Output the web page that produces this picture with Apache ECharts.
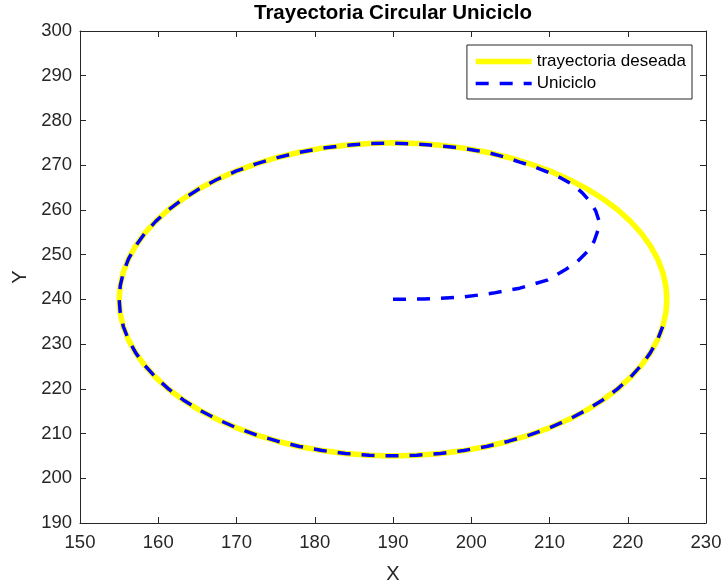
<!DOCTYPE html>
<html>
<head>
<meta charset="utf-8">
<script src="https://cdn.jsdelivr.net/npm/echarts@6/dist/echarts.min.js"></script>
<style>html,body{margin:0;padding:0;background:#fff}#c{width:724px;height:586px}</style>
</head>
<body>
<div id="c"></div>
<script>
var title = 'Trayectoria Circular Uniciclo';
var xName = 'X';
var yName = 'Y';
var xTicks = [150, 160, 170, 180, 190, 200, 210, 220, 230];
var yTicks = [190, 200, 210, 220, 230, 240, 250, 260, 270, 280, 290, 300];
var desiredName = 'trayectoria deseada';
var desiredX = [225, 224.87, 224.47, 223.81, 222.89, 221.72, 220.31, 218.67, 216.81, 214.75, 212.5, 210.08, 207.5, 204.79, 201.97, 199.06, 196.08, 193.05, 190, 186.95, 183.92, 180.94, 178.03, 175.21, 172.5, 169.92, 167.5, 165.25, 163.19, 161.33, 159.69, 158.28, 157.11, 156.19, 155.53, 155.13, 155, 155.13, 155.53, 156.19, 157.11, 158.28, 159.69, 161.33, 163.19, 165.25, 167.5, 169.92, 172.5, 175.21, 178.03, 180.94, 183.92, 186.95, 190, 193.05, 196.08, 199.06, 201.97, 204.79, 207.5, 210.08, 212.5, 214.75, 216.81, 218.67, 220.31, 221.72, 222.89, 223.81, 224.47, 224.87, 225];
var desiredY = [240, 243.05, 246.08, 249.06, 251.97, 254.79, 257.5, 260.08, 262.5, 264.75, 266.81, 268.67, 270.31, 271.72, 272.89, 273.81, 274.47, 274.87, 275, 274.87, 274.47, 273.81, 272.89, 271.72, 270.31, 268.67, 266.81, 264.75, 262.5, 260.08, 257.5, 254.79, 251.97, 249.06, 246.08, 243.05, 240, 236.95, 233.92, 230.94, 228.03, 225.21, 222.5, 219.92, 217.5, 215.25, 213.19, 211.33, 209.69, 208.28, 207.11, 206.19, 205.53, 205.13, 205, 205.13, 205.53, 206.19, 207.11, 208.28, 209.69, 211.33, 213.19, 215.25, 217.5, 219.92, 222.5, 225.21, 228.03, 230.94, 233.92, 236.95, 240];
var robotName = 'Uniciclo';
var robotX = [190, 194, 198.9, 202.8, 206.2, 209.7, 212, 213.6, 214.8, 215.7, 216.2, 216.3, 215.9, 215.2, 214.2, 213, 211.5, 209.7, 208, 206.2, 204.3, 202.4, 200.6, 198.9, 196.8, 194.7, 192.4, 190,
  186.95, 183.92, 180.94, 178.03, 175.21, 172.5, 169.92, 167.5, 165.25, 163.2, 161.34, 159.7, 158.29, 157.12, 156.2, 155.54, 155.14, 155.01, 155.14, 155.54, 156.2, 157.12, 158.29, 159.7, 161.34, 163.2, 165.26, 167.51, 169.93, 172.51, 175.22, 178.04, 180.95, 183.93, 186.96, 190, 193.04, 196.07, 199.05, 201.96, 204.78, 207.49, 210.07, 212.49, 214.74, 216.8, 218.66, 220.3, 221.71, 222.88, 223.8, 224.46];
var robotY = [240, 240.1, 240.5, 241.4, 242.5, 244.3, 246.6, 248.5, 250.6, 253, 255.5, 257.7, 259.8, 261.8, 263.8, 265.6, 267.1, 268.5, 269.7, 270.7, 271.8, 272.7, 273.3, 273.8, 274.2, 274.5, 274.8, 274.9,
  274.85, 274.45, 273.8, 272.87, 271.7, 270.3, 268.66, 266.8, 264.74, 262.49, 260.07, 257.49, 254.78, 251.96, 249.05, 246.07, 243.04, 240, 236.96, 233.93, 230.95, 228.04, 225.22, 222.51, 219.93, 217.51, 215.26, 213.2, 211.34, 209.7, 208.29, 207.12, 206.2, 205.54, 205.14, 205.01, 205.14, 205.54, 206.2, 207.12, 208.29, 209.7, 211.34, 213.2, 215.26, 217.51, 219.93, 222.51, 225.22, 228.04, 230.95, 233.93];

function pairs(xs, ys) { return xs.map(function (x, i) { return [x, ys[i]]; }); }

var axisColor = '#262626';
var font = 'Liberation Sans, Arial, Helvetica, sans-serif';
var yellowW = 5.5, blueW = 3.5, blueDash = [13, 11];
function xAx(pos, show) {
  return {
    type: 'value', position: pos, min: xTicks[0], max: xTicks[xTicks.length - 1], interval: 10,
    name: show ? xName : '', nameLocation: 'middle', nameGap: 41,
    nameTextStyle: { color: axisColor, fontSize: 20, fontFamily: font },
    axisLine: { show: true, onZero: false, lineStyle: { color: axisColor, width: 1 } },
    axisTick: { show: true, inside: true, length: 6, lineStyle: { color: axisColor } },
    axisLabel: { show: show, color: axisColor, fontSize: 18.5, fontFamily: font, margin: 10 },
    splitLine: { show: false }
  };
}
function yAx(pos, show) {
  return {
    type: 'value', position: pos, min: yTicks[0], max: yTicks[yTicks.length - 1], interval: 10,
    name: show ? yName : '', nameLocation: 'middle', nameGap: 50,
    nameTextStyle: { color: axisColor, fontSize: 20, fontFamily: font },
    axisLine: { show: true, onZero: false, lineStyle: { color: axisColor, width: 1 } },
    axisTick: { show: true, inside: true, length: 6, lineStyle: { color: axisColor } },
    axisLabel: { show: show, color: axisColor, fontSize: 18.5, fontFamily: font, margin: 8 },
    splitLine: { show: false }
  };
}

var chart = echarts.init(document.getElementById('c'), null, { renderer: 'canvas' });
chart.setOption({
  animation: false,
  backgroundColor: '#ffffff',
  title: {
    text: title, left: 388, textAlign: 'center', top: -2,
    textStyle: { fontSize: 20.5, fontWeight: 'bold', color: '#000', fontFamily: font }
  },
  grid: { left: 80, right: 18, top: 31, bottom: 63, containLabel: false, outerBoundsMode: 'none' },
  xAxis: [xAx('bottom', true), xAx('top', false)],
  yAxis: [yAx('left', true), yAx('right', false)],
  legend: {
    right: 32, top: 45, orient: 'vertical',
    backgroundColor: '#fff', borderColor: axisColor, borderWidth: 1, borderRadius: 0,
    padding: [8, 6, 7, 6], itemGap: 5, itemWidth: 56, itemHeight: 14,
    textStyle: { fontSize: 17, color: '#000', fontFamily: font },
    data: [
      { name: desiredName, itemStyle: { opacity: 0 }, lineStyle: { width: yellowW, color: '#ffff00' } },
      { name: robotName, itemStyle: { opacity: 0 }, lineStyle: { width: blueW, color: '#0000ff', type: blueDash } }
    ]
  },
  series: [
    {
      name: desiredName, type: 'line', data: pairs(desiredX, desiredY), smooth: false,
      showSymbol: false, symbol: 'none',
      lineStyle: { color: '#ffff00', width: yellowW }, itemStyle: { color: '#ffff00' }
    },
    {
      name: robotName, type: 'line', data: pairs(robotX, robotY), smooth: false,
      showSymbol: false, symbol: 'none',
      lineStyle: { color: '#0000ff', width: blueW, type: blueDash }, itemStyle: { color: '#0000ff' }
    }
  ]
});
</script>
</body>
</html>
